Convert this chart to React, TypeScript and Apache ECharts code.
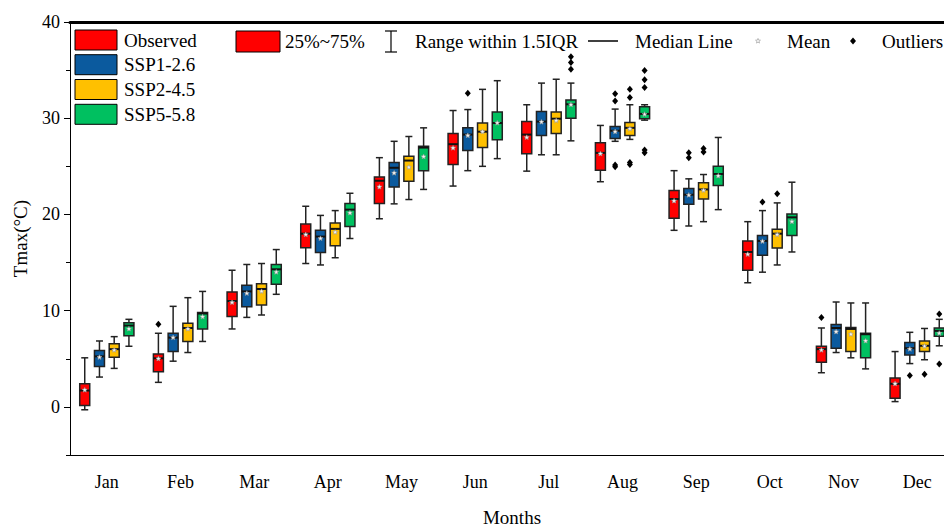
import React, { useEffect, useRef } from 'react';
import * as echarts from 'echarts';

const MONTHS = ['Jan', 'Feb', 'Mar', 'Apr', 'May', 'Jun', 'Jul', 'Aug', 'Sep', 'Oct', 'Nov', 'Dec'];
const SCENARIOS = ['Observed', 'SSP1-2.6', 'SSP2-4.5', 'SSP5-5.8'];
const COLORS = ['#FF0000', '#0B5A9E', '#FFC000', '#00C060'];
const Y_MAJOR = [0, 10, 20, 30, 40];
const Y_MINOR = [-5, 5, 15, 25, 35];

// [low whisker, Q1, median, Q3, high whisker]
const OBSERVED_BOX = [
  [-0.3, 0.15, 1.7, 2.4, 5.1],
  [2.55, 3.65, 5.05, 5.5, 7.65],
  [8.1, 9.4, 11.0, 11.95, 14.2],
  [14.9, 16.55, 18.0, 19.0, 20.85],
  [19.55, 21.15, 23.5, 23.9, 25.9],
  [22.95, 25.2, 27.3, 28.4, 30.8],
  [24.5, 26.3, 28.3, 29.65, 31.4],
  [23.4, 24.6, 26.4, 27.45, 29.25],
  [18.35, 19.6, 21.6, 22.5, 24.55],
  [12.9, 14.2, 16.1, 17.25, 19.25],
  [3.55, 4.65, 6.0, 6.3, 8.2],
  [0.55, 0.9, 2.4, 3.0, 5.75],
];
const OBSERVED_MEAN = [1.75, 5.0, 10.85, 17.9, 22.85, 26.9, 28.0, 26.3, 21.4, 15.85, 5.9, 2.4];
const OBSERVED_OUTLIERS = [[1, 8.6], [10, 9.3]];

const SSP126_BOX = [
  [3.1, 4.2, 5.25, 5.85, 6.85],
  [4.75, 5.75, 7.2, 7.65, 10.45],
  [9.3, 10.4, 12.0, 12.65, 14.8],
  [14.75, 16.05, 17.7, 18.35, 19.9],
  [21.1, 22.85, 24.85, 25.4, 27.6],
  [24.55, 26.65, 28.3, 29.0, 30.9],
  [26.2, 28.2, 29.65, 30.7, 33.65],
  [27.6, 27.9, 28.7, 29.15, 30.95],
  [18.8, 21.05, 22.05, 22.7, 23.7],
  [14.0, 15.75, 17.25, 17.8, 20.4],
  [5.65, 6.1, 8.2, 8.55, 10.9],
  [4.5, 5.4, 6.1, 6.7, 7.75],
];
const SSP126_MEAN = [5.15, 7.2, 11.8, 17.5, 24.3, 28.2, 29.6, 28.6, 22.0, 17.2, 7.8, 6.0];
const SSP126_OUTLIERS = [[5, 32.6], [7, 32.55], [7, 31.8], [7, 25.15], [7, 24.95], [8, 26.4], [8, 25.9], [9, 21.3], [11, 3.25]];

const SSP245_BOX = [
  [4.0, 5.15, 6.0, 6.55, 7.3],
  [5.65, 6.8, 8.2, 8.7, 11.35],
  [9.55, 10.6, 12.25, 12.8, 14.9],
  [15.5, 16.75, 18.5, 19.1, 20.4],
  [21.55, 23.45, 25.6, 26.05, 28.1],
  [25.0, 26.95, 28.6, 29.5, 33.0],
  [26.2, 28.4, 29.95, 30.65, 34.05],
  [27.8, 28.2, 29.0, 29.55, 31.4],
  [19.25, 21.6, 22.6, 23.3, 24.15],
  [14.75, 16.5, 18.0, 18.45, 21.2],
  [5.1, 5.75, 8.1, 8.25, 10.8],
  [4.9, 5.75, 6.35, 6.85, 8.15],
];
const SSP245_MEAN = [5.9, 8.1, 12.0, 18.15, 24.9, 28.6, 29.75, 28.9, 22.5, 17.9, 7.55, 6.3];
const SSP245_OUTLIERS = [[7, 33.0], [7, 32.15], [7, 25.4], [7, 25.2], [8, 26.85], [8, 26.5], [9, 22.15], [11, 3.4]];

const SSP585_BOX = [
  [6.3, 7.4, 8.45, 8.75, 9.1],
  [6.8, 8.1, 9.7, 9.8, 12.0],
  [11.7, 12.75, 14.3, 14.8, 16.35],
  [17.5, 18.75, 20.5, 21.15, 22.2],
  [22.6, 24.55, 26.95, 27.1, 29.0],
  [25.8, 27.75, 29.5, 30.65, 33.9],
  [27.65, 30.0, 31.45, 31.9, 33.65],
  [29.8, 29.95, 30.45, 31.2, 31.4],
  [20.5, 23.0, 24.2, 25.0, 28.0],
  [16.1, 17.8, 19.7, 20.05, 23.35],
  [3.95, 5.1, 7.55, 7.65, 10.8],
  [6.35, 7.35, 7.9, 8.2, 9.1],
];
const SSP585_MEAN = [8.1, 9.35, 14.0, 20.15, 26.0, 29.5, 31.4, 30.4, 24.0, 19.25, 6.85, 7.65];
const SSP585_OUTLIERS = [[6, 35.1], [6, 35.8], [6, 36.4], [7, 34.95], [7, 34.0], [7, 33.2], [7, 26.7], [7, 26.4], [11, 9.65], [11, 4.45]];

const BOXES = [OBSERVED_BOX, SSP126_BOX, SSP245_BOX, SSP585_BOX];
const MEANS = [OBSERVED_MEAN, SSP126_MEAN, SSP245_MEAN, SSP585_MEAN];
const OUTLIERS = [OBSERVED_OUTLIERS, SSP126_OUTLIERS, SSP245_OUTLIERS, SSP585_OUTLIERS];

// position of each scenario inside a month band (fraction of band width)
const OFFSETS = [-0.3, -0.1, 0.1, 0.3];
const BOX_W = 10;
const CAP_W = 7;
const FONT = '"Liberation Serif", "Times New Roman", serif';
const EDGE = '#222';

function starPoints(cx: number, cy: number, ro: number, ri: number) {
  const pts: number[][] = [];
  for (let k = 0; k < 10; k++) {
    const r = k % 2 === 0 ? ro : ri;
    const a = -Math.PI / 2 + (k * Math.PI) / 5;
    pts.push([cx + r * Math.cos(a), cy + r * Math.sin(a)]);
  }
  return pts;
}

function diamondPoints(cx: number, cy: number, w: number, h: number) {
  return [[cx, cy - h], [cx + w, cy], [cx, cy + h], [cx - w, cy]];
}

function makeBoxRender(s: number) {
  return (_params: any, api: any) => {
    const i = api.value(0);
    const band = api.size([1, 0])[0];
    const cx = api.coord([i, 0])[0] + OFFSETS[s] * band;
    const yy = (k: number) => api.coord([i, api.value(k)])[1];
    const yLo = yy(1), yQ1 = yy(2), yMed = yy(3), yQ3 = yy(4), yHi = yy(5), yMean = yy(6);
    const hw = BOX_W / 2, cw = CAP_W / 2;
    const ls = { stroke: EDGE, lineWidth: 1.5 };
    return {
      type: 'group',
      children: [
        { type: 'line', shape: { x1: cx, y1: yHi, x2: cx, y2: yQ3 }, style: ls },
        { type: 'line', shape: { x1: cx, y1: yQ1, x2: cx, y2: yLo }, style: ls },
        { type: 'line', shape: { x1: cx - cw, y1: yHi, x2: cx + cw, y2: yHi }, style: ls },
        { type: 'line', shape: { x1: cx - cw, y1: yLo, x2: cx + cw, y2: yLo }, style: ls },
        { type: 'rect', shape: { x: cx - hw, y: yQ3, width: BOX_W, height: yQ1 - yQ3 }, style: { fill: COLORS[s], stroke: EDGE, lineWidth: 1.5 } },
        { type: 'line', shape: { x1: cx - hw, y1: yMed, x2: cx + hw, y2: yMed }, style: { stroke: '#111', lineWidth: 2 } },
        { type: 'polygon', shape: { points: starPoints(cx, yMean, 2.6, 1.2) }, style: { fill: '#f4f4f4', stroke: '#999', lineWidth: 0.6 } },
      ],
    };
  };
}

function makeOutlierRender(s: number) {
  return (_params: any, api: any) => {
    const i = api.value(0);
    const band = api.size([1, 0])[0];
    const p = api.coord([i, api.value(1)]);
    const cx = p[0] + OFFSETS[s] * band;
    return { type: 'polygon', shape: { points: diamondPoints(cx, p[1], 3, 3.5) }, style: { fill: '#000' } };
  };
}

function legendGraphics() {
  const els: any[] = [];
  const rowY = [40, 64.7, 89.5, 114.3];
  SCENARIOS.forEach((name, k) => {
    els.push({ type: 'rect', shape: { x: 75, y: rowY[k] - 10, width: 42, height: 20 }, style: { fill: COLORS[k], stroke: '#000', lineWidth: 1 } });
    els.push({ type: 'text', x: 124, y: rowY[k], style: { text: name, font: `19px ${FONT}`, fill: '#000', verticalAlign: 'middle' } });
  });
  const ty = 41;
  els.push({ type: 'rect', shape: { x: 236, y: 31, width: 44, height: 21 }, style: { fill: COLORS[0], stroke: '#000', lineWidth: 1 } });
  els.push({ type: 'text', x: 285, y: ty, style: { text: '25%~75%', font: `19px ${FONT}`, fill: '#000', verticalAlign: 'middle' } });
  const ib = { stroke: '#000', lineWidth: 1.2 };
  els.push({ type: 'line', shape: { x1: 391, y1: 31, x2: 391, y2: 52 }, style: ib });
  els.push({ type: 'line', shape: { x1: 385, y1: 31, x2: 397, y2: 31 }, style: ib });
  els.push({ type: 'line', shape: { x1: 385, y1: 52, x2: 397, y2: 52 }, style: ib });
  els.push({ type: 'text', x: 415, y: ty, style: { text: 'Range within 1.5IQR', font: `19px ${FONT}`, fill: '#000', verticalAlign: 'middle' } });
  els.push({ type: 'line', shape: { x1: 588, y1: ty, x2: 618, y2: ty }, style: { stroke: '#000', lineWidth: 1.5 } });
  els.push({ type: 'text', x: 635, y: ty, style: { text: 'Median Line', font: `19px ${FONT}`, fill: '#000', verticalAlign: 'middle' } });
  els.push({ type: 'polygon', shape: { points: starPoints(758, ty, 2.6, 1.2) }, style: { fill: '#f4f4f4', stroke: '#999', lineWidth: 0.6 } });
  els.push({ type: 'text', x: 787, y: ty, style: { text: 'Mean', font: `19px ${FONT}`, fill: '#000', verticalAlign: 'middle' } });
  els.push({ type: 'polygon', shape: { points: diamondPoints(853, ty, 3, 3.5) }, style: { fill: '#000' } });
  els.push({ type: 'text', x: 882, y: ty, style: { text: 'Outliers', font: `19px ${FONT}`, fill: '#000', verticalAlign: 'middle' } });
  return els;
}

export default function App() {
  const ref = useRef<HTMLDivElement>(null);
  useEffect(() => {
    if (!ref.current) return;
    const chart = echarts.init(ref.current, null, { renderer: 'svg' });
    const series: any[] = [];
    SCENARIOS.forEach((name, s) => {
      series.push({
        name,
        type: 'custom',
        renderItem: makeBoxRender(s),
        encode: { x: 0, y: [1, 2, 3, 4, 5, 6] },
        data: BOXES[s].map((b, i) => [i, ...b, MEANS[s][i]]),
        z: 3,
      });
      series.push({
        name: name + ' outliers',
        type: 'custom',
        renderItem: makeOutlierRender(s),
        encode: { x: 0, y: 1 },
        data: OUTLIERS[s],
        z: 4,
      });
    });
    chart.setOption({
      animation: false,
      backgroundColor: '#fff',
      grid: { left: 70, top: 22, width: 884, height: 433, containLabel: false, outerBoundsMode: 'none' },
      xAxis: [
        {
          type: 'category',
          data: MONTHS,
          position: 'bottom',
          name: 'Months',
          nameLocation: 'middle',
          nameGap: 53,
          nameTextStyle: { fontFamily: FONT, fontSize: 19, color: '#000' },
          axisLine: { onZero: false, lineStyle: { color: '#000', width: 1 } },
          axisTick: { alignWithLabel: true, length: 6, lineStyle: { color: '#000' } },
          axisLabel: { fontFamily: FONT, fontSize: 18, color: '#000', margin: 18 },
          splitLine: { show: false },
        },
        {
          type: 'category',
          data: MONTHS,
          position: 'top',
          axisLine: { onZero: false, lineStyle: { color: '#000', width: 3 } },
          axisTick: { show: false },
          axisLabel: { show: false },
          splitLine: { show: false },
        },
      ],
      yAxis: [
        {
          type: 'value',
          min: -5,
          max: 40,
          position: 'left',
          name: 'Tmax(°C)',
          nameLocation: 'middle',
          nameGap: 40,
          nameTextStyle: { fontFamily: FONT, fontSize: 19, color: '#000' },
          axisLine: { show: true, onZero: false, lineStyle: { color: '#000', width: 1 } },
          axisTick: { show: true, length: 6, customValues: Y_MAJOR, lineStyle: { color: '#000' } },
          axisLabel: { fontFamily: FONT, fontSize: 18, color: '#000', margin: 10, customValues: Y_MAJOR },
          splitLine: { show: false },
        },
        {
          type: 'value',
          min: -5,
          max: 40,
          position: 'left',
          axisLine: { show: false, onZero: false },
          axisTick: { show: true, length: 4, customValues: Y_MINOR, lineStyle: { color: '#000' } },
          axisLabel: { show: false },
          splitLine: { show: false },
        },
      ],
      graphic: legendGraphics(),
      series,
    });
    return () => chart.dispose();
  }, []);
  return <div ref={ref} style={{ position: 'fixed', left: 0, top: 0, width: 944, height: 527 }} />;
}
